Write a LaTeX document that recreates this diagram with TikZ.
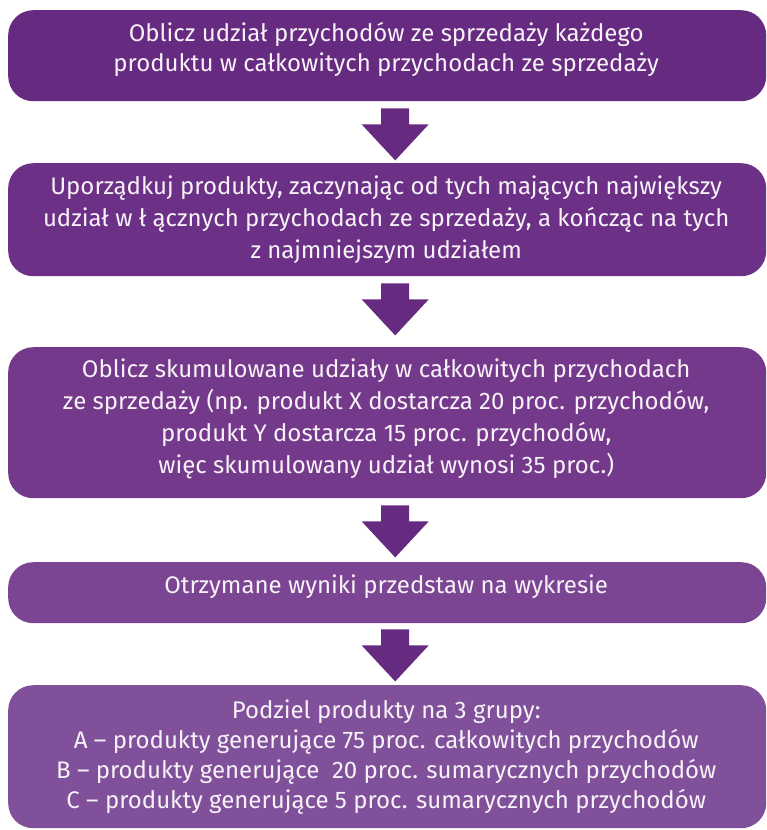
\documentclass[tikz,border=0pt]{standalone}
\usepackage{fontspec}
\setmainfont{Fira Sans}
\usetikzlibrary{calc}
\definecolor{c1}{HTML}{662A80}
\definecolor{c2}{HTML}{6C3086}
\definecolor{c3}{HTML}{75398C}
\definecolor{c4}{HTML}{7B4593}
\definecolor{c5}{HTML}{80519A}
\definecolor{arr}{HTML}{662A80}
\definecolor{txt}{HTML}{F7F2F8}
\tikzset{
  stepbox/.style={rectangle, rounded corners=25pt, minimum width=758pt, inner sep=0pt, anchor=north west},
  steptext/.style={text=txt, align=center, inner sep=0pt, font=\fontsize{24}{31.5}\selectfont},
  blockarrow/.style={fill=arr, draw=none}
}
\newcommand{\barrow}[1]{%
  \fill[blockarrow] ($(#1)+(-14pt,0)$) -- ++(28pt,0) -- ++(0,-16pt) -- ++(19.5pt,0)
    -- ($(#1)+(0,-52pt)$) -- ($(#1)+(-33.5pt,-16pt)$) -- ++(19.5pt,0) -- cycle;}
\begin{document}
\begin{tikzpicture}[x=1pt,y=1pt]
\useasboundingbox (0,0) rectangle (767,-830);
\node[stepbox, fill=c1, minimum height=91pt] (b1) at (8,-10) {};
\node[stepbox, fill=c2, minimum height=113pt] (b2) at (8,-163) {};
\node[stepbox, fill=c3, minimum height=151pt] (b3) at (8,-347) {};
\node[stepbox, fill=c4, minimum height=61pt] (b4) at (8,-562) {};
\node[stepbox, fill=c5, minimum height=143pt] (b5) at (8,-685) {};
\node[steptext, font=\fontsize{24}{30}\selectfont] (t1) at ($(b1.center)+(-1,6)$)
  {Oblicz udział przychodów ze sprzedaży każdego\\produktu w całkowitych przychodach ze sprzedaży};
\node[steptext, font=\fontsize{24}{32}\selectfont] (t2) at ($(b2.center)+(-1,0)$)
  {Uporządkuj produkty, zaczynając od tych mających największy\\udział w ł ącznych przychodach ze sprzedaży, a kończąc na tych\\z najmniejszym udziałem};
\node[steptext, font=\fontsize{24}{32}\selectfont] (t3) at ($(b3.center)+(-1,4)$)
  {Oblicz skumulowane udziały w całkowitych przychodach\\ze sprzedaży (np. produkt X dostarcza 20 proc. przychodów,\\produkt Y dostarcza 15 proc. przychodów,\\więc skumulowany udział wynosi 35 proc.)};
\node[steptext] (t4) at ($(b4.center)+(-1,6)$)
  {Otrzymane wyniki przedstaw na wykresie};
\node[steptext, font=\fontsize{24}{30}\selectfont] (t5) at ($(b5.center)+(-1,0)$)
  {Podziel produkty na 3 grupy:\\A – produkty generujące 75 proc. całkowitych przychodów\\B – produkty generujące\ \ 20 proc. sumarycznych przychodów\\C – produkty generujące 5 proc. sumarycznych przychodów};
\path (b1.south) ++(8,-7) coordinate (a1);
\path (b2.south) ++(8,-7) coordinate (a2);
\path (b3.south) ++(8,-7) coordinate (a3);
\path (b4.south) ++(8,-6) coordinate (a4);
\barrow{a1}
\barrow{a2}
\barrow{a3}
\barrow{a4}
\end{tikzpicture}
\end{document}
